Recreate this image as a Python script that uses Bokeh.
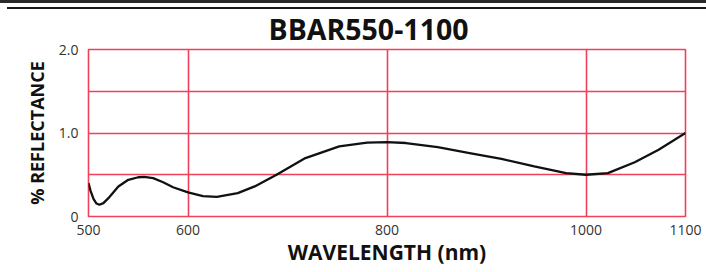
from bokeh.plotting import figure
from bokeh.models import FixedTicker, Range1d
from bokeh.embed import file_html
from bokeh.resources import INLINE

# ---- data ----
wavelength = [500, 502, 505, 508, 511, 515, 520, 530, 540, 550, 556, 565, 575, 585,
              600, 615, 629, 650, 667, 689, 718, 752, 780, 800, 819, 851, 883, 915,
              948, 980, 1000, 1022, 1049, 1073, 1100]
reflectance = [0.40, 0.31, 0.21, 0.155, 0.14, 0.16, 0.22, 0.36, 0.44, 0.47, 0.475, 0.46,
               0.41, 0.35, 0.29, 0.245, 0.235, 0.28, 0.36, 0.50, 0.70, 0.84, 0.885, 0.89,
               0.88, 0.83, 0.76, 0.69, 0.60, 0.52, 0.50, 0.52, 0.65, 0.80, 1.00]
x_ticks = [500, 600, 800, 1000, 1100]
x_grid = [600, 800, 1000]
y_ticks = [0, 1, 2]
y_tick_labels = {0: "0", 1: "1.0", 2: "2.0"}
y_grid = [0.5, 1.0, 1.5]
title = "BBAR550-1100"
x_label = "WAVELENGTH (nm)"
y_label = "% REFLECTANCE"

RED = "#f0405a"
FONT = "Open Sans"

p = figure(width=706, height=268, output_backend="svg", toolbar_location=None,
           x_range=Range1d(500, 1100), y_range=Range1d(0, 2),
           min_border_left=88, min_border_right=21, min_border_top=49, min_border_bottom=47)

p.border_fill_color = None
p.styles = {
    "background-color": "#ffffff",
    "background-image": ("linear-gradient(#2a2a2a, #2a2a2a), "
                         "linear-gradient(#1a1a1a, #1a1a1a)"),
    "background-size": "706px 3px, 699px 2px",
    "background-position": "0px 0px, 7px 7px",
    "background-repeat": "no-repeat, no-repeat",
}

p.title.text = title
p.title.text_font = FONT
p.title.text_font_size = "28.5px"
p.title.text_font_style = "bold"
p.title.text_color = "#111111"
p.title.align = "left"
p.title.offset = 180
p.title.standoff = 3

p.outline_line_color = RED
p.outline_line_width = 1.6
p.outline_line_alpha = 1.0

p.xgrid.ticker = FixedTicker(ticks=x_grid)
p.ygrid.ticker = FixedTicker(ticks=y_grid)
for g in (p.xgrid, p.ygrid):
    g.grid_line_color = RED
    g.grid_line_width = 1.6
    g.grid_line_alpha = 1.0

p.xaxis.ticker = FixedTicker(ticks=x_ticks)
p.yaxis.ticker = FixedTicker(ticks=y_ticks)
p.yaxis.major_label_overrides = y_tick_labels
for ax in (p.xaxis, p.yaxis):
    ax.axis_line_color = None
    ax.major_tick_line_color = None
    ax.minor_tick_line_color = None
    ax.major_label_text_font = FONT
    ax.major_label_text_font_size = "14px"
    ax.major_label_text_color = "#333333"
    ax.axis_label_text_font = FONT
    ax.axis_label_text_font_style = "bold"
    ax.axis_label_text_color = "#111111"

p.xaxis.axis_label = x_label
p.yaxis.axis_label = y_label
p.xaxis.axis_label_text_font_size = "21px"
p.yaxis.axis_label_text_font_size = "18px"
p.xaxis.major_label_standoff = 2
p.xaxis.axis_label_standoff = 0
p.yaxis.major_label_standoff = 4
p.yaxis.axis_label_standoff = 7

p.line(wavelength, reflectance, line_color="#111111", line_width=2.3)

open("out.html", "w").write(file_html(p, INLINE))
